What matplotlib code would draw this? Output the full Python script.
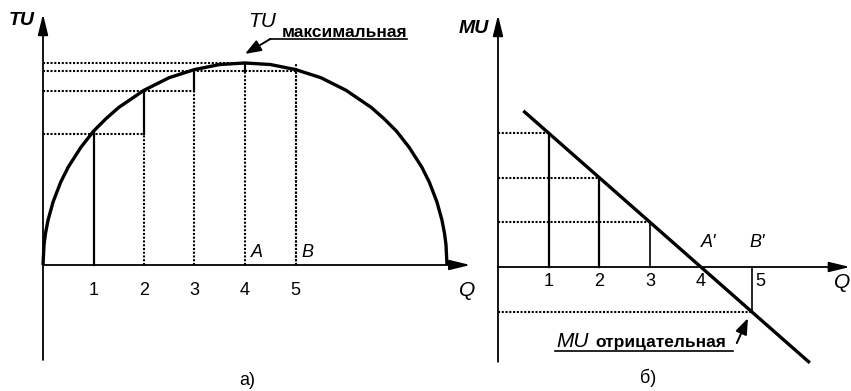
import matplotlib.pyplot as plt

plt.rcParams['font.family'] = ['Liberation Sans', 'DejaVu Sans']

# --- данные: левая панель (TU) ---
q_curve = [0, 0.02, 0.05, 0.1, 0.2, 0.35, 0.5, 0.75, 1, 1.25, 1.5, 2, 2.5, 3, 3.5,
           4, 4.5, 5, 5.5, 6, 6.5, 6.75, 7, 7.25, 7.5, 7.65, 7.8, 7.9, 7.95, 7.98, 8]
tu_curve = [0, 0.40, 0.63, 0.89, 1.25, 1.64, 1.94, 2.33, 2.65, 2.90, 3.12, 3.46, 3.71, 3.87, 3.97,
            4.00, 3.97, 3.87, 3.71, 3.46, 3.12, 2.90, 2.65, 2.33, 1.94, 1.64, 1.25, 0.89, 0.63, 0.40, 0]
q_steps = [1, 2, 3, 4, 5]
tu_steps = [2.60, 3.44, 3.85, 4.00, 3.85]
tick_labels = ['1', '2', '3', '4', '5']

# --- данные: правая панель (MU) ---
q_mu_line = [0.5, 6.15]
mu_line = [3.08, -1.89]
mu_steps = [2.64, 1.76, 0.88, 0.0, -0.88]

W, H = 851, 391
fig = plt.figure(figsize=(W / 100, H / 100), dpi=100)

dot = (0, (1.0, 0.8))
dlw = 1.5
arrow = dict(arrowstyle='-|>,head_length=0.9,head_width=0.22', lw=1.3,
             color='black', mutation_scale=14, shrinkA=0, shrinkB=0)
small_arrow = dict(arrowstyle='-|>,head_length=0.8,head_width=0.3', lw=1.4,
                   color='black', mutation_scale=12, shrinkA=0, shrinkB=0)

# ================= а) =================
ax1 = fig.add_axes([0, 0, 475 / W, 1])
ax1.set_xlim(-43 / 50.5, (475 - 43) / 50.5)
ax1.set_ylim(-(391 - 265) / 50.5, 265 / 50.5)
ax1.axis('off')

ax1.annotate('', xy=(0, 4.97), xytext=(0, -1.88), arrowprops=arrow)
ax1.annotate('', xy=(8.46, 0), xytext=(0, 0), arrowprops=arrow)

ax1.plot(q_curve, tu_curve, color='black', lw=2.4, solid_capstyle='butt')

# первая единица - сплошная линия до кривой
ax1.plot([q_steps[0], q_steps[0]], [0, tu_curve[8]], color='black', lw=1.6)
for i in range(len(q_steps)):
    q = q_steps[i]
    x_end = q_steps[i + 1] if i < 3 else q
    if i < 4:
        ax1.plot([0, x_end], [tu_steps[i], tu_steps[i]], color='black', lw=dlw, ls=dot)
    if i > 0:
        ax1.plot([q, q], [0, tu_steps[i - 1]], color='black', lw=dlw, ls=dot)
        if i < 4:
            ax1.plot([q, q], [tu_steps[i - 1], tu_steps[i]], color='black', lw=1.6)
# уровень TU(3) = TU(5)
ax1.plot([4, 5], [tu_steps[2], tu_steps[4]], color='black', lw=dlw, ls=dot)
ax1.plot([5, 5], [0, tu_steps[4]], color='black', lw=dlw, ls=dot)

for q, lab in zip(q_steps, tick_labels):
    ax1.text(q, -0.5, lab, ha='center', va='center', fontsize=13)
ax1.text(8.40, -0.5, 'Q', ha='center', va='center', fontsize=15, style='italic')
ax1.text(-0.42, 4.85, 'TU', ha='center', va='center', fontsize=14, style='italic',
         weight='bold')
ax1.text(4.24, 0.24, 'A', ha='center', va='center', fontsize=13, style='italic')
ax1.text(5.24, 0.24, 'B', ha='center', va='center', fontsize=13, style='italic')

ax1.text(4.06, 4.71, 'TU', ha='left', va='baseline', fontsize=15, style='italic')
ax1.text(4.72, 4.51, 'максимальная', ha='left', va='baseline', fontsize=12.5, weight='bold')
ax1.plot([4.50, 7.21], [4.475, 4.475], color='black', lw=1.2)
ax1.annotate('', xy=(4.0, 4.18), xytext=(4.50, 4.475), arrowprops=small_arrow)
ax1.text(4.04, -2.28, 'а)', ha='center', va='center', fontsize=13)

# ================= б) =================
ax2 = fig.add_axes([478 / W, 0, (W - 478) / W, 1])
ax2.set_xlim((478 - 498) / 50.7, (W - 498) / 50.7)
ax2.set_ylim(-(391 - 267) / 50.7, 267 / 50.7)
ax2.axis('off')

ax2.annotate('', xy=(0, 4.97), xytext=(0, -1.87), arrowprops=arrow)
ax2.annotate('', xy=(6.94, 0), xytext=(0, 0), arrowprops=arrow)

ax2.plot(q_mu_line, mu_line, color='black', lw=2.4, solid_capstyle='butt')

for q, mu in zip(q_steps, mu_steps):
    if q == 4:
        continue
    ax2.plot([0, q], [mu, mu], color='black', lw=dlw, ls=dot)
    ax2.plot([q, q], [0, mu], color='black', lw=1.6 if q < 3 else 1.2)

for q, lab in zip(q_steps[:4], tick_labels[:4]):
    ax2.text(q, -0.28, lab, ha='center', va='center', fontsize=13)
ax2.text(5.17, -0.28, tick_labels[4], ha='center', va='center', fontsize=13)
ax2.text(6.78, -0.30, 'Q', ha='center', va='center', fontsize=15, style='italic')
ax2.text(-0.47, 4.71, 'MU', ha='center', va='center', fontsize=14, style='italic',
         weight='bold')
ax2.text(4.16, 0.49, "A'", ha='center', va='center', fontsize=13, style='italic')
ax2.text(5.12, 0.49, "B'", ha='center', va='center', fontsize=13, style='italic')

ax2.text(1.16, -1.58, 'MU', ha='left', va='baseline', fontsize=15, style='italic')
ax2.text(1.92, -1.58, 'отрицательная', ha='left', va='baseline', fontsize=12.5, weight='bold')
ax2.plot([1.12, 4.64], [-1.66, -1.66], color='black', lw=1.2)
ax2.annotate('', xy=(4.93, -1.01), xytext=(4.71, -1.50), arrowprops=small_arrow)
ax2.text(2.96, -2.19, 'б)', ha='center', va='center', fontsize=13)

fig.savefig('out.png', dpi=100)
